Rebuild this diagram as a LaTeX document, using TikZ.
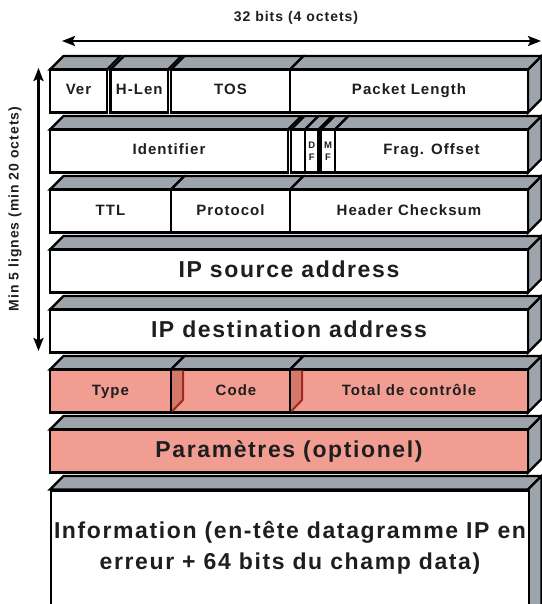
\documentclass[tikz,border=0pt]{standalone}
\usepackage{fontspec}
\setmainfont{Liberation Sans}
\newfontfamily\lblfont{Liberation Sans}[LetterSpace=7]
\usetikzlibrary{arrows.meta}

\definecolor{bandgray}{RGB}{158,164,172}
\definecolor{fldpink}{RGB}{241,157,146}
\definecolor{sidepink}{RGB}{212,120,108}
\definecolor{edgered}{RGB}{158,42,30}
\definecolor{inkc}{RGB}{30,30,30}

% top face of a field: x1, x2, centre y of the row
\newcommand\topface[3]{%
  \filldraw[bandface] (#1,#3-21.5) -- (#1+13.5,#3-35) -- (#2+13.5,#3-35) -- (#2,#3-21.5) -- cycle;}
% right face of the last field of a row: x, top y, bottom y
\newcommand\sideface[3]{%
  \filldraw[bandface] (#1,#2) -- (#1+13.5,#2-13.5) -- (#1+13.5,#3-13.5) -- (#1,#3) -- cycle;}
% one field: name, x1, x2, centre y, style, text
\newcommand\slab[6]{%
  \topface{#2}{#3}{#4}%
  \node[#5, minimum width={#3-#2}, minimum height=43] (#1) at ({(#2+#3)/2},#4) {#6};}
% inner side face of the pink fields
\newcommand\innerside[2]{% x1, centre y
  \fill[sidepink] (#1+1.2,#2-20.3) -- (#1+12,#2-20.3) -- (#1+12,#2+9) -- (#1+1.2,#2+20.3) -- cycle;
  \draw[edgered, line width=2pt] (#1+12,#2-20.3) -- (#1+12,#2+9) -- (#1+1.2,#2+20.3);}

\begin{document}
\begin{tikzpicture}[x=1pt,y=-1pt,
  bandface/.style={fill=bandgray, draw=black, line width=2.2pt, line join=miter},
  smalltext/.style={text=inkc, font=\lblfont\bfseries\fontsize{15}{18}\selectfont,
    text height=11pt, text depth=3pt},
  bigtext/.style={text=inkc, font=\lblfont\bfseries\fontsize{23}{31}\selectfont},
  field/.style={draw=black, line width=2.4pt, fill=white, inner sep=0pt, smalltext},
  bigfield/.style={field, bigtext, text height=16.5pt, text depth=4.5pt},
  pinkfield/.style={field, fill=fldpink},
  bigpink/.style={bigfield, fill=fldpink},
  flagfield/.style={draw=black, line width=2.4pt, fill=white, inner sep=0pt, text=inkc,
    align=center, font=\bfseries\fontsize{9.5}{12}\selectfont},
  dimarrow/.style={line width=2.4pt, draw=black,
    {Stealth[length=13pt,width=10pt,inset=2.5pt]}-{Stealth[length=13pt,width=10pt,inset=2.5pt]}},
  dimlabel/.style={text=inkc, font=\lblfont\bfseries\fontsize{14}{17}\selectfont, inner sep=0pt}]
\useasboundingbox (0,0) rectangle (541,604);

% dimension arrows
\coordinate (wl) at (62,41);
\coordinate (wr) at (541,41);
\draw[dimarrow] (wl) -- (wr);
\node[dimlabel] (wlab) at (296,18) {32 bits (4 octets)};
\coordinate (ht) at (38.5,68);
\coordinate (hb) at (38.5,351);
\draw[dimarrow] (ht) -- (hb);
\node[dimlabel, rotate=90] (hlab) at (15,209) {Min 5 lignes (min 20 octets)};

% row 1
\slab{ver}{50}{107}{91}{field}{Ver}
\slab{hlen}{110.5}{168}{91}{field}{H-Len}
\slab{tos}{171}{290}{91}{field}{TOS}
\sideface{528}{69.5}{112.5}
\slab{plen}{290}{528}{91}{field}{Packet Length}

% row 2
\slab{ident}{50}{288}{151}{field}{Identifier}
\slab{rsv}{291}{305}{151}{flagfield}{}
\slab{df}{305}{318.5}{151}{flagfield}{D\\F}
\slab{mf}{321}{335}{151}{flagfield}{M\\F}
\sideface{528}{129.5}{172.5}
\slab{frag}{335}{528}{151}{field}{Frag. Offset}

% row 3
\slab{ttl}{50}{171}{211}{field}{TTL}
\slab{proto}{171}{290}{211}{field}{Protocol}
\sideface{528}{189.5}{232.5}
\slab{hcs}{290}{528}{211}{field}{Header Checksum}

% rows 4 and 5
\sideface{528}{249.5}{292.5}
\slab{src}{50}{528}{271}{bigfield}{IP source address}
\sideface{528}{309.5}{352.5}
\slab{dst}{50}{528}{331}{bigfield}{IP destination address}

% ICMP header
\slab{type}{50}{171}{391}{pinkfield}{Type}
\slab{code}{171}{290}{391}{pinkfield}{}
\sideface{528}{369.5}{412.5}
\slab{tcs}{290}{528}{391}{pinkfield}{}
\innerside{171}{391}
\innerside{290}{391}
\node[smalltext] (codetxt) at (236,391) {Code};
\node[smalltext] (tcstxt) at (409,391) {Total de contrôle};

\sideface{528}{429.5}{472.5}
\slab{param}{50}{528}{451}{bigpink}{Paramètres (optionel)}

% data part, running past the lower edge
\topface{50}{528}{511}
\sideface{528}{489.5}{660}
\node[field, minimum width=478, minimum height=170.5, anchor=north west] (info) at (50,489.5) {};
\node[bigtext, align=center] (infotxt) at (290,548)
  {Information (en-tête datagramme IP en\\erreur + 64 bits du champ data)};
\end{tikzpicture}
\end{document}
